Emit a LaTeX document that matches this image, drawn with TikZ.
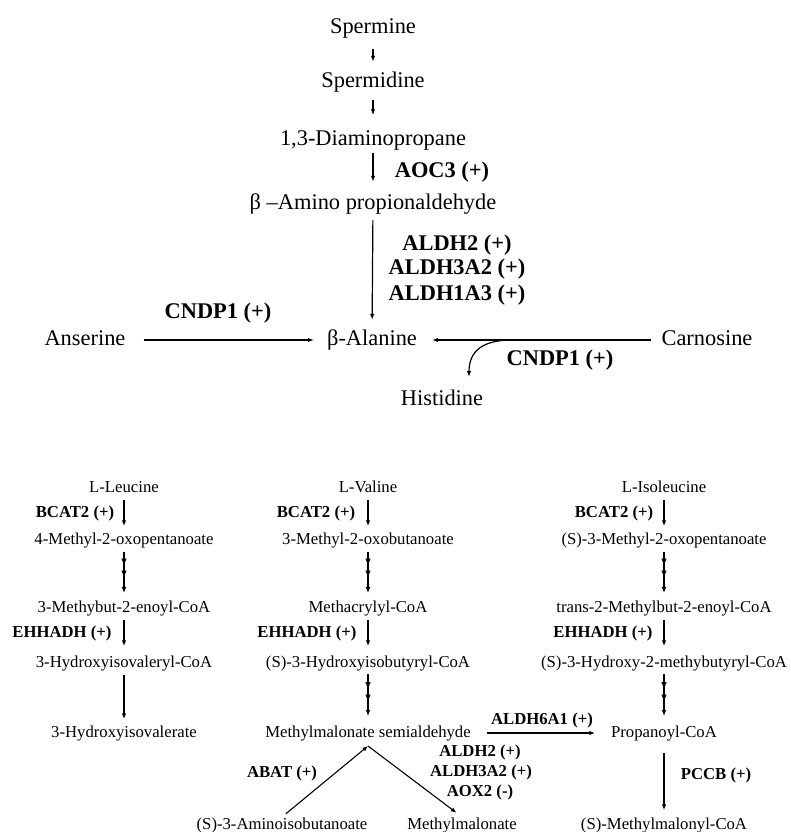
\documentclass[tikz,border=0pt]{standalone}
\usepackage{fontspec}
\setmainfont{Liberation Serif}
\usetikzlibrary{arrows.meta,decorations.markings}
\tikzset{
  big/.style={font=\fontsize{22.4}{26}\selectfont, inner sep=0pt, text height=16pt, text depth=5pt},
  bigb/.style={font=\fontsize{22.4}{26}\selectfont\bfseries, inner sep=0pt, text height=16pt, text depth=5pt},
  sm/.style={font=\fontsize{16.7}{20}\selectfont, inner sep=0pt, text height=12pt, text depth=3.7pt},
  smb/.style={font=\fontsize{16.7}{20}\selectfont\bfseries, inner sep=0pt, text height=12pt, text depth=3.7pt},
  arrbig/.style={line width=1.2pt, -{Latex[length=6pt,width=4.5pt]}},
  arrsm/.style={line width=1.1pt, -{Latex[length=5.5pt,width=4.5pt]}},
  triplearr/.style={line width=1.3pt, -{Latex[length=6pt,width=5pt]},
    decoration={markings,
      mark=at position 0.3 with {\fill (1pt,0pt) -- (-5pt,2.6pt) -- (-5pt,-2.6pt) -- cycle;},
      mark=at position 0.53 with {\fill (1pt,0pt) -- (-5pt,2.6pt) -- (-5pt,-2.6pt) -- cycle;}},
    postaction={decorate}},
}
\begin{document}
\begin{tikzpicture}[x=1pt,y=-1pt]
\useasboundingbox[fill=white] (0,0) rectangle (790,832);

% ---------- top section ----------
\node[big] (spm) at (373,28) {Spermine};
\node[big] (spd) at (373,82) {Spermidine};
\node[big] (dap) at (373,140) {1,3-Diaminopropane};
\node[big] (bap) at (373,204) {β –Amino propionaldehyde};
\node[big] (bal) at (372,340) {β-Alanine};
\node[big] (ans) at (85,340) {Anserine};
\node[big] (car) at (707,340) {Carnosine};
\node[big] (his) at (442,400) {Histidine};

\node[bigb] (aoc) at (442,172) {AOC3 (+)};
\node[bigb] (al2) at (457,245) {ALDH2 (+)};
\node[bigb] (al3) at (457,269) {ALDH3A2 (+)};
\node[bigb] (al1) at (457,295) {ALDH1A3 (+)};
\node[bigb] (cn1) at (218,313) {CNDP1 (+)};
\node[bigb] (cn2) at (560,360) {CNDP1 (+)};

\draw[arrbig, shorten <=10.5pt, shorten >=9.5pt] (spm) -- (spd);
\draw[arrbig, shorten <=7.5pt, shorten >=14pt] (spd) -- (dap);
\draw[arrbig, shorten <=2.5pt, shorten >=11.5pt] (dap) -- (bap);
\draw[arrbig, shorten <=5.5pt, shorten >=9.5pt] (bap) -- (bal);
\draw[arrbig, shorten <=18pt, shorten >=13pt] (ans) -- (bal);
\draw[arrbig, shorten <=10pt, shorten >=15pt] (car) -- (bal);
\coordinate (br) at (512,340);
\coordinate (hisin) at (469,377);
\draw[arrbig] (br) .. controls (484,340) and (469,350) .. (hisin);

% ---------- bottom section ----------
\node[sm] (leu) at (124,488) {L-Leucine};
\node[sm] (mop) at (124,540) {4-Methyl-2-oxopentanoate};
\node[sm] (mbe) at (124,608) {3-Methybut-2-enoyl-CoA};
\node[sm] (hiv) at (124,663) {3-Hydroxyisovaleryl-CoA};
\node[sm] (hia) at (124,733) {3-Hydroxyisovalerate};

\node[sm] (val) at (368,488) {L-Valine};
\node[sm] (mob) at (368,540) {3-Methyl-2-oxobutanoate};
\node[sm] (mac) at (368,608) {Methacrylyl-CoA};
\node[sm] (hib) at (368,663) {(S)-3-Hydroxyisobutyryl-CoA};
\node[sm] (mms) at (368,733) {Methylmalonate semialdehyde};

\node[sm] (ile) at (664,488) {L-Isoleucine};
\node[sm] (smo) at (664,540) {(S)-3-Methyl-2-oxopentanoate};
\node[sm] (tmb) at (664,608) {trans-2-Methylbut-2-enoyl-CoA};
\node[sm] (hmb) at (664,663) {(S)-3-Hydroxy-2-methybutyryl-CoA};
\node[sm] (pro) at (664,733) {Propanoyl-CoA};

\node[sm] (aib) at (282,825) {(S)-3-Aminoisobutanoate};
\node[sm] (mma) at (462,825) {Methylmalonate};
\node[sm] (mmc) at (664,825) {(S)-Methylmalonyl-CoA};

\node[smb] (b1) at (75,513) {BCAT2 (+)};
\node[smb] (b2) at (316,513) {BCAT2 (+)};
\node[smb] (b3) at (614,513) {BCAT2 (+)};
\node[smb] (e1) at (62,633) {EHHADH (+)};
\node[smb] (e2) at (307,633) {EHHADH (+)};
\node[smb] (e3) at (603,633) {EHHADH (+)};
\node[smb] (abat) at (282,773) {ABAT (+)};
\node[smb] (a6) at (542,720) {ALDH6A1 (+)};
\node[smb] (a2) at (480,752) {ALDH2 (+)};
\node[smb] (a3) at (481,772) {ALDH3A2 (+)};
\node[smb] (ax) at (480,792) {AOX2 (-)};
\node[smb] (pc) at (716,775) {PCCB (+)};

% leucine column
\draw[arrsm, shorten <=4pt, shorten >=6pt] (leu) -- (mop);
\draw[triplearr, shorten <=4pt, shorten >=7pt] (mop) -- (mbe);
\draw[arrsm, shorten <=4pt, shorten >=9pt] (mbe) -- (hiv);
\draw[arrsm, shorten <=4pt, shorten >=6pt] (hiv) -- (hia);
% valine column
\draw[arrsm, shorten <=4pt, shorten >=6pt] (val) -- (mob);
\draw[triplearr, shorten <=4pt, shorten >=7pt] (mob) -- (mac);
\draw[arrsm, shorten <=4pt, shorten >=9pt] (mac) -- (hib);
\draw[triplearr, shorten <=3pt, shorten >=9pt] (hib) -- (mms);
% isoleucine column
\draw[arrsm, shorten <=4pt, shorten >=6pt] (ile) -- (smo);
\draw[triplearr, shorten <=4pt, shorten >=7pt] (smo) -- (tmb);
\draw[arrsm, shorten <=4pt, shorten >=9pt] (tmb) -- (hmb);
\draw[triplearr, shorten <=3pt, shorten >=9pt] (hmb) -- (pro);
\draw[arrsm, shorten <=12pt, shorten >=7pt] (pro) -- (mmc);
% cross links
\draw[arrsm, shorten <=16pt, shorten >=16pt] (mms) -- (pro);
\coordinate (apex) at (368,746);
\draw[arrsm, shorten <=5pt] (aib.north) -- (apex);
\draw[arrsm, shorten >=7pt] (apex) -- (mma.north);
\end{tikzpicture}
\end{document}
